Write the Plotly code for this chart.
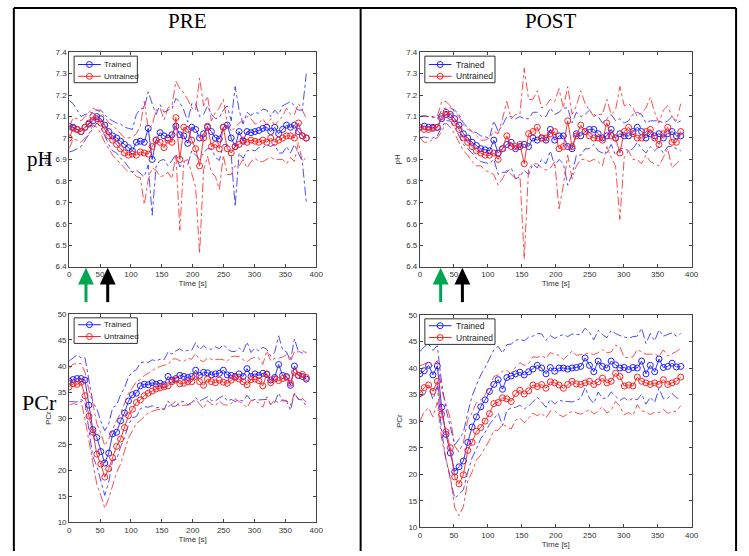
import plotly.graph_objects as go

W, H = 749, 556

# time base of the spectra (s)
time_s = [0, 6.4, 12.8, 19.2, 25.6, 32, 38.4, 44.8, 51.2, 57.6,
          64, 70.4, 76.8, 83.2, 89.6, 96, 102.4, 108.8, 115.2, 121.6,
          128, 134.4, 140.8, 147.2, 153.6, 160, 166.4, 172.8, 179.2, 185.6,
          192, 198.4, 204.8, 211.2, 217.6, 224, 230.4, 236.8, 243.2, 249.6,
          256, 262.4, 268.8, 275.2, 281.6, 288, 294.4, 300.8, 307.2, 313.6,
          320, 326.4, 332.8, 339.2, 345.6, 352, 358.4, 364.8, 371.2, 377.6,
          384]

# ---- PRE pH ----
pre_ph_trained = [7.055, 7.05, 7.04, 7.03, 7.05, 7.065, 7.08, 7.10, 7.09, 7.06,
                  7.03, 7.01, 7.00, 6.985, 6.97, 6.955, 6.94, 6.98, 6.985, 6.98,
                  7.045, 6.90, 6.99, 7.025, 7.01, 7.00, 7.015, 7.055, 7.015, 7.01,
                  6.975, 7.05, 7.04, 7.00, 7.02, 7.05, 7.03, 7.00, 6.995, 7.05,
                  7.06, 7.00, 6.96, 7.03, 6.985, 7.03, 7.025, 7.03, 7.035, 7.045,
                  7.05, 7.03, 7.05, 7.02, 7.04, 7.06, 7.05, 7.06, 7.03, 7.01,
                  7.00]
pre_ph_trained_sd = [0.12, 0.11, 0.09, 0.07, 0.06, 0.05, 0.04, 0.03, 0.04, 0.05,
                     0.06, 0.07, 0.07, 0.08, 0.08, 0.09, 0.10, 0.13, 0.15, 0.16,
                     0.17, 0.26, 0.12, 0.13, 0.11, 0.13, 0.12, 0.13, 0.15, 0.12,
                     0.10, 0.11, 0.12, 0.10, 0.09, 0.10, 0.08, 0.09, 0.10, 0.08,
                     0.09, 0.08, 0.28, 0.10, 0.08, 0.09, 0.08, 0.09, 0.08, 0.09,
                     0.08, 0.07, 0.08, 0.09, 0.11, 0.10, 0.12, 0.09, 0.10, 0.12,
                     0.30]
pre_ph_untrained = [7.00, 7.045, 7.04, 7.03, 7.05, 7.07, 7.10, 7.09, 7.07, 7.04,
                    7.01, 6.99, 6.97, 6.95, 6.93, 6.92, 6.925, 6.92, 6.935, 6.93,
                    6.925, 6.96, 6.99, 6.98, 6.955, 6.99, 6.98, 7.095, 6.90, 7.05,
                    7.04, 6.99, 6.95, 6.87, 7.00, 7.055, 6.96, 6.97, 6.95, 7.05,
                    6.95, 6.93, 6.96, 6.97, 6.99, 6.98, 6.99, 6.985, 6.98, 6.99,
                    6.98, 7.00, 6.98, 6.99, 7.00, 7.01, 7.01, 7.00, 7.07, 7.01,
                    7.00]
pre_ph_untrained_sd = [0.05, 0.05, 0.05, 0.05, 0.05, 0.05, 0.04, 0.04, 0.05, 0.06,
                       0.06, 0.07, 0.07, 0.07, 0.07, 0.08, 0.08, 0.10, 0.12, 0.24,
                       0.12, 0.10, 0.14, 0.16, 0.13, 0.15, 0.17, 0.17, 0.33, 0.16,
                       0.14, 0.15, 0.18, 0.41, 0.15, 0.14, 0.12, 0.15, 0.19, 0.13,
                       0.12, 0.10, 0.09, 0.10, 0.09, 0.12, 0.10, 0.08, 0.09, 0.10,
                       0.08, 0.09, 0.08, 0.09, 0.10, 0.13, 0.10, 0.11, 0.09, 0.12,
                       0.09]

# ---- POST pH ----
post_ph_trained = [7.05, 7.055, 7.05, 7.05, 7.05, 7.09, 7.11, 7.11, 7.09, 7.06,
                   7.02, 7.00, 6.98, 6.965, 6.95, 6.945, 6.94, 6.99, 6.93, 6.95,
                   6.97, 6.98, 6.95, 6.96, 6.97, 6.96, 7.00, 6.99, 7.00, 6.99,
                   7.04, 6.99, 7.01, 7.01, 6.96, 6.95, 7.02, 7.01, 7.03, 7.04,
                   7.04, 7.02, 7.00, 7.01, 7.04, 7.00, 7.02, 7.01, 7.01, 7.03,
                   7.05, 7.03, 7.00, 7.02, 7.01, 7.02, 7.00, 7.02, 7.03, 7.01,
                   7.01]
post_ph_trained_sd = [0.05, 0.05, 0.05, 0.05, 0.04, 0.04, 0.03, 0.03, 0.04, 0.05,
                      0.05, 0.05, 0.05, 0.06, 0.06, 0.06, 0.06, 0.09, 0.10, 0.11,
                      0.13, 0.12, 0.14, 0.14, 0.12, 0.13, 0.12, 0.13, 0.10, 0.11,
                      0.10, 0.12, 0.11, 0.13, 0.18, 0.12, 0.10, 0.09, 0.08, 0.09,
                      0.07, 0.08, 0.07, 0.08, 0.07, 0.08, 0.07, 0.06, 0.07, 0.08,
                      0.07, 0.08, 0.07, 0.06, 0.07, 0.06, 0.07, 0.06, 0.07, 0.06,
                      0.07]
post_ph_untrained = [7.05, 7.04, 7.04, 7.045, 7.05, 7.10, 7.12, 7.10, 7.07, 7.04,
                     7.00, 6.98, 6.96, 6.94, 6.93, 6.92, 6.92, 6.93, 6.90, 6.95,
                     7.01, 6.96, 6.96, 6.97, 6.88, 7.02, 7.03, 7.05, 7.00, 7.00,
                     7.02, 7.03, 6.95, 6.96, 7.08, 6.96, 7.01, 7.06, 7.03, 7.01,
                     7.00, 7.00, 6.99, 7.07, 7.01, 7.00, 6.93, 7.03, 7.05, 7.02,
                     7.00, 7.00, 7.03, 7.04, 7.00, 6.97, 7.02, 7.05, 6.98, 6.98,
                     7.03]
post_ph_untrained_sd = [0.05, 0.06, 0.06, 0.05, 0.05, 0.07, 0.05, 0.05, 0.05, 0.06,
                        0.06, 0.06, 0.07, 0.07, 0.06, 0.07, 0.08, 0.10, 0.12, 0.14,
                        0.16, 0.13, 0.15, 0.14, 0.445, 0.16, 0.15, 0.17, 0.14, 0.15,
                        0.16, 0.14, 0.28, 0.18, 0.16, 0.15, 0.14, 0.16, 0.13, 0.12,
                        0.10, 0.11, 0.12, 0.11, 0.10, 0.13, 0.31, 0.12, 0.11, 0.12,
                        0.10, 0.12, 0.11, 0.15, 0.12, 0.10, 0.11, 0.10, 0.12, 0.10,
                        0.13]

# ---- PRE PCr ----
pre_pcr_trained = [37.1, 37.4, 37.6, 37.6, 37.3, 32.5, 27.8, 26.3, 23.6, 21.4,
                   23.3, 27.0, 27.3, 29.5, 31.0, 33.3, 34.5, 34.8, 36.2, 36.5,
                   36.4, 36.8, 36.5, 36.7, 36.4, 38.0, 37.3, 37.6, 38.2, 38.0,
                   37.8, 38.0, 39.2, 38.2, 38.8, 38.7, 38.3, 38.5, 38.6, 39.2,
                   38.3, 38.2, 38.0, 38.5, 38.0, 39.5, 38.0, 38.5, 38.2, 38.6,
                   38.4, 37.3, 37.8, 40.3, 38.2, 38.0, 36.3, 40.0, 38.2, 38.0,
                   37.5]
pre_pcr_trained_sd = [3.9, 4.2, 4.5, 4.0, 4.3, 4.8, 5.2, 5.5, 5.8, 6.2,
                      5.6, 5.0, 5.2, 5.0, 4.8, 4.6, 4.4, 4.5, 4.4, 4.3,
                      4.3, 4.4, 4.5, 4.6, 4.8, 4.7, 5.0, 5.3, 5.1, 4.8,
                      5.2, 5.0, 5.3, 4.9, 5.1, 4.6, 4.9, 5.2, 4.7, 4.9,
                      5.0, 4.6, 4.8, 5.0, 4.7, 5.1, 4.6, 4.9, 4.7, 5.0,
                      4.8, 4.6, 4.8, 5.5, 4.9, 4.7, 4.8, 5.2, 4.6, 4.5,
                      5.2]
pre_pcr_untrained = [36.0, 36.6, 36.5, 36.9, 34.3, 30.4, 27.3, 23.1, 21.2, 18.7,
                     20.3, 22.4, 24.6, 26.0, 28.2, 30.5, 31.7, 33.0, 33.5, 34.3,
                     34.8, 35.2, 35.6, 35.8, 36.0, 36.2, 37.0, 37.3, 36.6, 36.7,
                     37.0, 37.0, 38.0, 37.0, 36.3, 37.5, 37.0, 36.8, 37.3, 36.9,
                     36.7, 37.3, 37.8, 37.5, 37.0, 36.4, 37.4, 37.5, 37.2, 36.2,
                     38.5, 36.8, 37.5, 37.2, 37.6, 37.8, 36.7, 38.8, 38.2, 38.4,
                     37.8]
pre_pcr_untrained_sd = [3.5, 3.8, 3.9, 3.6, 4.5, 5.0, 5.5, 5.8, 6.0, 6.0,
                        5.7, 5.3, 5.0, 4.8, 4.6, 4.3, 4.1, 4.0, 3.9, 3.9,
                        3.8, 3.9, 4.0, 4.1, 4.2, 4.0, 4.3, 4.1, 4.4, 4.2,
                        4.5, 4.3, 4.4, 4.2, 4.5, 4.1, 4.3, 4.4, 4.0, 4.3,
                        4.2, 4.5, 4.1, 4.3, 4.2, 4.4, 4.0, 4.2, 4.3, 4.1,
                        4.4, 4.2, 4.0, 4.3, 4.1, 4.4, 4.2, 4.0, 4.5, 4.6,
                        4.7]

# ---- POST PCr ----
post_pcr_trained = [38.9, 39.5, 40.5, 38.7, 40.4, 32.6, 27.5, 24.0, 20.5, 21.4,
                    22.5, 26.0, 28.9, 30.8, 32.7, 34.0, 35.6, 36.9, 37.8, 36.0,
                    38.2, 38.5, 38.9, 39.2, 38.7, 39.3, 39.8, 40.5, 40.0, 38.9,
                    40.1, 39.4, 40.0, 40.0, 39.8, 40.0, 40.1, 40.3, 41.9, 40.5,
                    39.3, 41.3, 40.3, 40.0, 41.3, 40.6, 40.0, 40.1, 39.7, 40.1,
                    40.0, 41.3, 38.9, 40.5, 39.3, 41.7, 40.1, 40.3, 40.9, 40.2,
                    40.3]
post_pcr_trained_sd = [4.2, 4.5, 4.0, 4.6, 3.8, 4.5, 4.8, 5.0, 5.0, 5.2,
                       5.4, 5.6, 5.8, 6.0, 6.0, 6.1, 6.2, 6.5, 6.3, 6.8,
                       6.2, 6.0, 6.3, 6.2, 6.4, 6.5, 6.2, 6.0, 6.4, 6.3,
                       6.0, 6.2, 6.0, 6.3, 6.1, 6.4, 6.2, 6.0, 5.6, 6.2,
                       6.0, 5.8, 6.0, 5.7, 5.8, 5.9, 6.1, 5.7, 5.9, 5.8,
                       6.0, 6.2, 5.7, 6.0, 5.8, 5.5, 5.9, 6.0, 5.7, 5.8,
                       6.2]
post_pcr_untrained = [35.2, 36.3, 36.8, 35.6, 37.5, 31.3, 28.0, 25.0, 19.5, 18.2,
                      19.9, 24.5, 26.0, 28.1, 28.8, 30.0, 31.4, 33.3, 33.5, 34.4,
                      34.2, 33.7, 35.2, 35.8, 35.1, 35.7, 36.8, 36.5, 36.9, 36.2,
                      37.4, 37.2, 36.8, 36.2, 36.9, 37.5, 37.0, 36.9, 37.2, 37.5,
                      36.9, 37.4, 38.1, 37.2, 37.5, 39.0, 38.4, 36.6, 36.8, 36.6,
                      38.3, 37.5, 37.2, 36.9, 37.2, 36.9, 37.8, 36.9, 37.2, 37.5,
                      38.3]
post_pcr_untrained_sd = [5.2, 4.5, 4.3, 4.8, 3.9, 4.6, 5.2, 5.5, 5.8, 6.0,
                         6.0, 5.8, 5.6, 5.4, 5.2, 5.0, 5.0, 5.1, 5.2, 5.0,
                         5.3, 5.2, 5.0, 5.2, 5.4, 5.1, 5.3, 5.5, 5.4, 5.6,
                         5.5, 5.3, 5.6, 5.4, 5.5, 5.7, 5.4, 5.6, 5.5, 5.3,
                         5.6, 5.5, 5.4, 5.7, 5.5, 5.3, 5.6, 5.4, 5.2, 5.5,
                         5.2, 5.6, 5.4, 5.7, 5.5, 5.3, 5.6, 5.4, 5.5, 5.6,
                         5.4]

# axis ticks
time_ticks = [0, 50, 100, 150, 200, 250, 300, 350, 400]
ph_ticks = [6.4, 6.5, 6.6, 6.7, 6.8, 6.9, 7.0, 7.1, 7.2, 7.3, 7.4]
ph_tick_text = ['6.4', '6.5', '6.6', '6.7', '6.8', '6.9', '7', '7.1', '7.2', '7.3', '7.4']
pcr_ticks = [10, 15, 20, 25, 30, 35, 40, 45, 50]
legend_names = ['Trained', 'Untrained']

BLUE = '#1f1fff'
RED = '#ff1f1f'


def px(x):
	return x / W


def py(y):
	return 1 - y / H


def add_group(fig, t, mean, sd, name, color, xa, ya):
	upper = [m + s for m, s in zip(mean, sd)]
	lower = [m - s for m, s in zip(mean, sd)]
	for band in (upper, lower):
		fig.add_trace(go.Scatter(x=t, y=band, mode='lines', xaxis=xa, yaxis=ya,
			line=dict(color=color, width=0.8, dash='dashdot'), showlegend=False, hoverinfo='skip'))
	fig.add_trace(go.Scatter(x=t, y=mean, mode='lines+markers', name=name, xaxis=xa, yaxis=ya,
		showlegend=False, line=dict(color=color, width=0.9),
		marker=dict(symbol='circle-open', size=6, color=color, line=dict(width=1, color=color))))


# matlab style legend box: left, top, right, bottom, sample start, sample end, text x, row ys
def legend_box(shapes, annotations, box, x0, x1, tx, rows, fsize):
	l, t, r, b = box
	shapes.append(dict(type='rect', xref='paper', yref='paper', x0=px(l), x1=px(r), y0=py(b), y1=py(t),
		line=dict(color='#333', width=1), fillcolor='white'))
	for name, color, ry in zip(legend_names, (BLUE, RED), rows):
		shapes.append(dict(type='line', xref='paper', yref='paper', x0=px(x0), x1=px(x1), y0=py(ry), y1=py(ry),
			line=dict(color=color, width=1)))
		cx = (x0 + x1) / 2
		shapes.append(dict(type='circle', xref='paper', yref='paper', x0=px(cx - 3), x1=px(cx + 3),
			y0=py(ry + 3), y1=py(ry - 3), line=dict(color=color, width=1)))
		annotations.append(dict(text=name, x=px(tx), y=py(ry), xref='paper', yref='paper', showarrow=False,
			xanchor='left', yanchor='middle', font=dict(family='Arial', size=fsize, color='#222')))


# panel boxes in pixels: left, top, right, bottom
panels = [
	('x', 'y', (68, 49, 318, 267), pre_ph_trained, pre_ph_trained_sd, pre_ph_untrained, pre_ph_untrained_sd, 'pH'),
	('x2', 'y2', (423, 49, 698, 267), post_ph_trained, post_ph_trained_sd, post_ph_untrained, post_ph_untrained_sd, 'pH'),
	('x3', 'y3', (68, 315, 318, 527), pre_pcr_trained, pre_pcr_trained_sd, pre_pcr_untrained, pre_pcr_untrained_sd, 'PCr'),
	('x4', 'y4', (423, 316, 698, 532), post_pcr_trained, post_pcr_trained_sd, post_pcr_untrained, post_pcr_untrained_sd, 'PCr'),
]

fig = go.Figure()
layout = {}
tick_font = dict(family='Arial', size=8, color='#333333')

for i, (xa, ya, box, tm, tsd, um, usd, ylab) in enumerate(panels):
	add_group(fig, time_s, tm, tsd, 'Trained', BLUE, xa, ya)
	add_group(fig, time_s, um, usd, 'Untrained', RED, xa, ya)
	l, t, r, b = box
	suffix = '' if i == 0 else str(i + 1)
	layout['xaxis' + suffix] = dict(domain=[px(l), px(r)], anchor=ya, range=[0, 400],
		tickvals=time_ticks, ticks='inside', ticklen=3, tickcolor='#444', showline=True,
		linecolor='#444', linewidth=1, mirror='allticks', showgrid=False, zeroline=False,
		tickfont=tick_font, title=dict(text='Time [s]', font=tick_font, standoff=2))
	if ylab == 'pH':
		yextra = dict(range=[6.4, 7.4], tickvals=ph_ticks, ticktext=ph_tick_text)
	else:
		yextra = dict(range=[10, 50], tickvals=pcr_ticks)
	layout['yaxis' + suffix] = dict(domain=[py(b), py(t)], anchor=xa, ticks='inside', ticklen=3,
		tickcolor='#444', showline=True, linecolor='#444', linewidth=1, mirror='allticks',
		showgrid=False, zeroline=False, tickfont=tick_font,
		title=dict(text=ylab, font=tick_font, standoff=4), **yextra)

fig.update_layout(**layout)

# table borders
border = dict(color='black', width=2)
shapes = [
	dict(type='line', xref='paper', yref='paper', x0=px(12), x1=px(743), y0=py(4), y1=py(4), line=border),
	dict(type='line', xref='paper', yref='paper', x0=px(12), x1=px(12), y0=py(4), y1=py(556), line=border),
	dict(type='line', xref='paper', yref='paper', x0=px(363), x1=px(363), y0=py(4), y1=py(556), line=border),
	dict(type='line', xref='paper', yref='paper', x0=px(743), x1=px(743), y0=py(4), y1=py(556), line=border),
]

# green / black arrows under the pH panels
for ax_x, col in ((85, '#00a651'), (107, 'black'), (444, '#00a651'), (466, 'black')):
	shapes.append(dict(type='path', xref='paper', yref='paper', fillcolor=col, line=dict(width=0),
		path='M %f,%f L %f,%f L %f,%f Z' % (px(ax_x), py(268), px(ax_x - 8), py(285), px(ax_x + 8), py(285))))
	shapes.append(dict(type='line', xref='paper', yref='paper', x0=px(ax_x), x1=px(ax_x),
		y0=py(284), y1=py(303), line=dict(color=col, width=3)))

serif = dict(family='Liberation Serif, Times New Roman, serif', color='black')
annotations = [
	dict(text='PRE', x=px(188), y=py(17), font=dict(size=21, **serif)),
	dict(text='POST', x=px(556), y=py(17), font=dict(size=21, **serif)),
	dict(text='pH', x=px(38), y=py(158), font=dict(size=21, **serif)),
	dict(text='PCr', x=px(38), y=py(405), font=dict(size=22, **serif)),
]
for a in annotations:
	a.update(xref='paper', yref='paper', showarrow=False, xanchor='center', yanchor='middle')

legend_box(shapes, annotations, (73, 53, 137, 80), 77, 100, 101, (61.5, 73.5), 8)
legend_box(shapes, annotations, (428, 53, 499, 80), 432, 455, 458, (61.5, 73.5), 8.5)
legend_box(shapes, annotations, (73, 319, 137, 345), 77, 100, 101, (326, 338), 8)
legend_box(shapes, annotations, (428, 320, 499, 346), 432, 455, 458, (327, 339), 8.5)

fig.update_layout(width=W, height=H, margin=dict(l=0, r=0, t=0, b=0), showlegend=False,
	paper_bgcolor='white', plot_bgcolor='white', shapes=shapes, annotations=annotations)

fig.write_html("out.html", config={'displayModeBar': False},
	post_script="document.body.style.margin='0';")
